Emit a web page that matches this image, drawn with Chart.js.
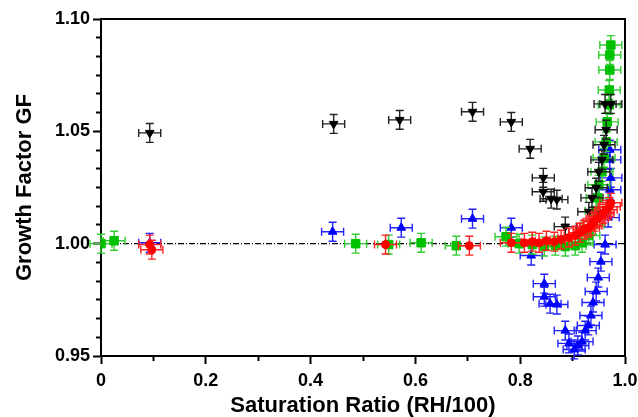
<!DOCTYPE html>
<html>
<head>
<meta charset="utf-8">
<script src="https://cdn.jsdelivr.net/npm/chart.js@4/dist/chart.umd.min.js"></script>
<style>
    body { margin: 0; background: #fff; }
    #wrap { width: 638px; height: 417px; }
</style>
</head>
<body>
<div id="wrap"><canvas id="gfChart" width="638" height="417"></canvas></div>
<script>
// Growth factor vs saturation ratio, four series with x/y error bars

const xTicks = [0, 0.2, 0.4, 0.6, 0.8, 1.0];
const yTicks = [0.95, 1.00, 1.05, 1.10];

// black, down triangles
const blackX = [0.093, 0.444, 0.570, 0.709, 0.783, 0.819, 0.844, 0.844, 0.859, 0.870, 0.886, 0.931, 0.937, 0.945, 0.950, 0.956, 0.960, 0.964, 0.962, 0.973];
const blackY = [1.0493, 1.0533, 1.0551, 1.0587, 1.0542, 1.0422, 1.0293, 1.0231, 1.0200, 1.0196, 1.0076, 1.0142, 1.0204, 1.0249, 1.0320, 1.0373, 1.0440, 1.0507, 1.0622, 1.0622];

// blue, up triangles
const blueX = [0.093, 0.442, 0.573, 0.709, 0.783, 0.821, 0.846, 0.846, 0.857, 0.870, 0.886, 0.893, 0.903, 0.910, 0.918, 0.924, 0.930, 0.935, 0.939, 0.945, 0.949, 0.954, 0.962, 0.968, 0.971, 0.973, 0.971, 0.971];
const blueY = [1.0004, 1.0053, 1.0071, 1.0111, 1.0071, 0.9947, 0.9822, 0.9764, 0.9733, 0.9729, 0.9613, 0.9556, 0.9529, 0.9547, 0.9564, 0.9613, 0.9636, 0.9680, 0.9738, 0.9787, 0.9849, 0.9920, 0.9996, 1.0116, 1.0240, 1.0293, 1.0373, 1.0418];

// green, squares
const greenX = [0.000, 0.025, 0.486, 0.549, 0.611, 0.678, 0.773, 0.798, 0.823, 0.846, 0.867, 0.886, 0.905, 0.918, 0.931, 0.939, 0.945, 0.947, 0.950, 0.956, 0.960, 0.964, 0.966, 0.970, 0.970, 0.971, 0.971, 0.973];
const greenY = [1.0000, 1.0013, 1.0000, 0.9996, 1.0004, 0.9991, 1.0031, 1.0000, 0.9996, 0.9987, 0.9991, 0.9987, 0.9991, 1.0004, 1.0036, 1.0084, 1.0147, 1.0204, 1.0262, 1.0320, 1.0382, 1.0453, 1.0542, 1.0618, 1.0684, 1.0773, 1.0840, 1.0884];

// red, circles
const redX = [0.093, 0.097, 0.543, 0.703, 0.783, 0.808, 0.823, 0.836, 0.850, 0.865, 0.878, 0.893, 0.905, 0.914, 0.922, 0.930, 0.935, 0.941, 0.947, 0.952, 0.958, 0.964, 0.970, 0.973];
const redY = [0.9996, 0.9973, 0.9996, 0.9991, 1.0004, 1.0004, 1.0009, 1.0004, 1.0013, 1.0009, 1.0018, 1.0027, 1.0036, 1.0049, 1.0062, 1.0071, 1.0080, 1.0098, 1.0111, 1.0120, 1.0133, 1.0151, 1.0164, 1.0182];

// error half-widths
const xErr = 0.021;
const yErr = 0.0042;

const refLineX = [0, 1];
const refLineY = [1, 1];

function toPoints(xs, ys) {
    return xs.map((x, i) => ({ x: x, y: ys[i] }));
}

// minor ticks: 6 steps between y labels, 2 between x labels
function minorTicks(majors, parts) {
    const out = [];
    for (let i = 0; i < majors.length - 1; i++) {
        const step = (majors[i + 1] - majors[i]) / parts;
        for (let k = 1; k < parts; k++) out.push({ value: majors[i] + k * step });
    }
    return out;
}

const FONT = "'Liberation Sans', Arial, sans-serif";

const errorBars = {
    id: 'errorBars',
    beforeDatasetDraw(chart, args) {
        const ds = chart.data.datasets[args.index];
        if (!ds.errColor) return;
        const c = chart.ctx;
        const sx = chart.scales.x, sy = chart.scales.y;
        const cap = 4;
        c.save();
        c.strokeStyle = ds.errColor;
        c.lineWidth = 1.4;
        ds.data.forEach(p => {
            const px = sx.getPixelForValue(p.x);
            const py = sy.getPixelForValue(p.y);
            const x1 = sx.getPixelForValue(p.x - xErr);
            const x2 = sx.getPixelForValue(p.x + xErr);
            const y1 = sy.getPixelForValue(p.y - yErr);
            const y2 = sy.getPixelForValue(p.y + yErr);
            c.beginPath();
            c.moveTo(x1, py); c.lineTo(x2, py);
            c.moveTo(x1, py - cap); c.lineTo(x1, py + cap);
            c.moveTo(x2, py - cap); c.lineTo(x2, py + cap);
            c.moveTo(px, y1); c.lineTo(px, y2);
            c.moveTo(px - cap, y1); c.lineTo(px + cap, y1);
            c.moveTo(px - cap, y2); c.lineTo(px + cap, y2);
            c.stroke();
        });
        c.restore();
    }
};

// thin helper axes: frame lines on top/right, minor tick marks
const frameAxis = (position, min, max) => ({
    type: 'linear', position: position, min: min, max: max, weight: 0,
    afterFit(scale) {
        if (scale.isHorizontal()) scale.height = 0; else scale.width = 0;
        scale.paddingLeft = 0; scale.paddingRight = 0; scale.paddingTop = 0; scale.paddingBottom = 0;
    },
    border: { display: true, color: '#000', width: 2 },
    grid: { display: false },
    ticks: { display: false }
});

const minorAxis = (position, min, max, majors, parts) => ({
    type: 'linear', position: position, min: min, max: max, weight: 0,
    afterFit(scale) {
        if (scale.isHorizontal()) scale.height = 0; else scale.width = 0;
        scale.paddingLeft = 0; scale.paddingRight = 0; scale.paddingTop = 0; scale.paddingBottom = 0;
    },
    afterBuildTicks(scale) { scale.ticks = minorTicks(majors, parts); },
    border: { display: false },
    grid: { display: true, drawOnChartArea: false, drawTicks: true, tickLength: 5, tickColor: '#000', tickWidth: 2 },
    ticks: { display: false }
});

new Chart(document.getElementById('gfChart'), {
    type: 'scatter',
    data: {
        datasets: [
            {
                label: 'red', data: toPoints(redX, redY), order: 1,
                pointStyle: 'circle', pointRadius: 4, backgroundColor: '#ff0000', borderColor: '#ff0000',
                errColor: '#f22'
            },
            {
                label: 'black', data: toPoints(blackX, blackY), order: 2,
                pointStyle: 'triangle', rotation: 180, pointRadius: 5, backgroundColor: '#000', borderColor: '#000',
                errColor: '#222'
            },
            {
                label: 'green', data: toPoints(greenX, greenY), order: 3,
                pointStyle: 'rect', pointRadius: 6, backgroundColor: '#00c000', borderColor: '#00c000',
                errColor: '#3c3'
            },
            {
                label: 'blue', data: toPoints(blueX, blueY), order: 4,
                pointStyle: 'triangle', pointRadius: 5, backgroundColor: '#0000ff', borderColor: '#0000ff',
                errColor: '#22f'
            },
            {
                label: 'ref', data: toPoints(refLineX, refLineY), order: 5,
                showLine: true, pointRadius: 0, borderColor: '#000', borderWidth: 1.3,
                borderDash: [6, 2, 1, 2]
            }
        ]
    },
    options: {
        responsive: false,
        animation: false,
        events: [],
        layout: { padding: { top: 19, right: 13, left: 0, bottom: 0 } },
        plugins: { legend: { display: false }, tooltip: { enabled: false } },
        scales: {
            x: {
                type: 'linear', min: 0, max: 1, weight: 1,
                afterFit(scale) { scale.height = 61; scale.paddingLeft = 0; scale.paddingRight = 0; },
                afterBuildTicks(scale) { scale.ticks = xTicks.map(v => ({ value: v })); },
                border: { display: true, color: '#000', width: 2 },
                grid: { drawOnChartArea: false, drawTicks: true, tickLength: 8, tickColor: '#000', tickWidth: 2 },
                ticks: {
                    color: '#000', padding: 6, maxRotation: 0,
                    font: { family: FONT, size: 18, weight: 'bold' },
                    callback: v => v === 0 ? '0' : v.toFixed(1)
                },
                title: {
                    display: true, text: 'Saturation Ratio (RH/100)', color: '#000',
                    font: { family: FONT, size: 22, weight: 'bold', lineHeight: 1 },
                    padding: 0
                }
            },
            y: {
                type: 'linear', min: 0.95, max: 1.10, weight: 1,
                afterFit(scale) { scale.width = 101; },
                afterBuildTicks(scale) { scale.ticks = yTicks.map(v => ({ value: v })); },
                border: { display: true, color: '#000', width: 2 },
                grid: { drawOnChartArea: false, drawTicks: true, tickLength: 8, tickColor: '#000', tickWidth: 2 },
                ticks: {
                    color: '#000', padding: 3,
                    font: { family: FONT, size: 18, weight: 'bold' },
                    callback: v => v.toFixed(2)
                },
                title: {
                    display: true, text: 'Growth Factor GF', color: '#000',
                    font: { family: FONT, size: 22, weight: 'bold', lineHeight: 1 },
                    padding: { top: 14, bottom: 0 }
                }
            },
            xMinor: minorAxis('bottom', 0, 1, xTicks, 2),
            yMinor: minorAxis('left', 0.95, 1.10, yTicks, 6),
            xTop: frameAxis('top', 0, 1),
            yRight: frameAxis('right', 0.95, 1.10)
        }
    },
    plugins: [errorBars]
});
</script>
</body>
</html>
